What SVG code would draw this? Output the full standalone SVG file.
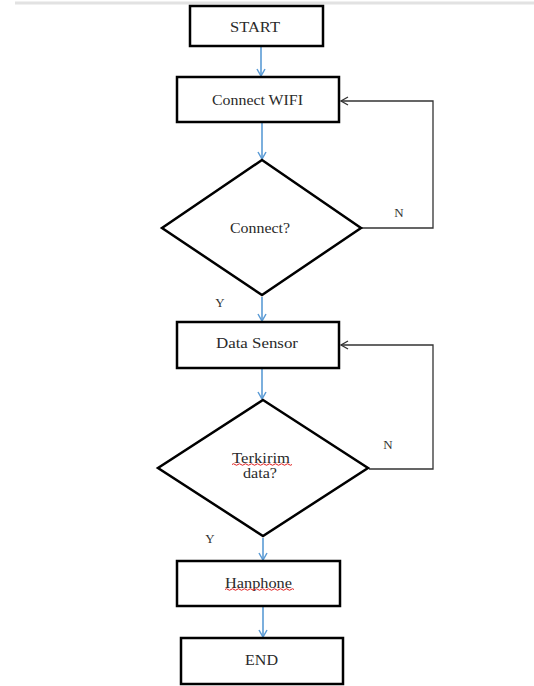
<svg xmlns="http://www.w3.org/2000/svg" width="534" height="686" viewBox="0 0 534 686">
<defs>
<style>
.box{fill:#fff;stroke:#000;stroke-width:2.5}
.dia{fill:#fff;stroke:#000;stroke-width:2.5;stroke-linejoin:miter}
.t{font-family:"Liberation Serif","Times New Roman",serif;font-size:14px;fill:#2a2a2a;text-anchor:middle;dominant-baseline:central}
.lbl{font-family:"Liberation Serif","Times New Roman",serif;font-size:13px;fill:#333;text-anchor:middle;dominant-baseline:central}
.flow{fill:none;stroke:#5b9bd5;stroke-width:1.6}
.loop{fill:none;stroke:#333;stroke-width:1.3}
.sq{fill:none;stroke:#e02020;stroke-width:1}
</style>
<marker id="ab" markerWidth="10" markerHeight="10" refX="8" refY="5" orient="auto" markerUnits="userSpaceOnUse">
<path d="M1,1 L8,5 L1,9" fill="none" stroke="#5b9bd5" stroke-width="1.5"/>
</marker>
<marker id="ak" markerWidth="10" markerHeight="10" refX="8" refY="5" orient="auto" markerUnits="userSpaceOnUse">
<path d="M1,1 L8,5 L1,9" fill="none" stroke="#333" stroke-width="1.3"/>
</marker>
</defs>
<rect width="534" height="686" fill="#fff"/>
<line x1="15" y1="3" x2="534" y2="3" stroke="#e2e2e2" stroke-width="3"/>

<g id="connectors">
<line class="flow" x1="261" y1="47" x2="261" y2="76" marker-end="url(#ab)"/>
<line class="flow" x1="262" y1="123" x2="262" y2="159" marker-end="url(#ab)"/>
<line class="flow" x1="262" y1="297" x2="262" y2="321" marker-end="url(#ab)"/>
<line class="flow" x1="262" y1="369" x2="262" y2="399" marker-end="url(#ab)"/>
<line class="flow" x1="263" y1="538" x2="263" y2="560" marker-end="url(#ab)"/>
<line class="flow" x1="263" y1="607" x2="263" y2="637" marker-end="url(#ab)"/>
<polyline class="loop" points="362,228 433,228 433,101 341,101" marker-end="url(#ak)"/>
<polyline class="loop" points="369,469 433,469 433,345 341,345" marker-end="url(#ak)"/>
<text class="lbl" x="399" y="212">N</text>
<text class="lbl" x="220" y="302">Y</text>
<text class="lbl" x="388" y="444">N</text>
<text class="lbl" x="210" y="538">Y</text>
</g>

<g id="start">
<rect class="box" x="190" y="6" width="133" height="40"/>
<text class="t" x="255" y="27" textLength="50" lengthAdjust="spacingAndGlyphs">START</text>
</g>
<g id="connect-wifi">
<rect class="box" x="177" y="77" width="162" height="45"/>
<text class="t" x="257.5" y="100" textLength="91" lengthAdjust="spacingAndGlyphs">Connect WIFI</text>
</g>
<g id="connect-q">
<polygon class="dia" points="262,160 361,228 262,295 162,228"/>
<text class="t" x="260" y="228" textLength="60" lengthAdjust="spacingAndGlyphs">Connect?</text>
</g>
<g id="data-sensor">
<rect class="box" x="177" y="322" width="162" height="46"/>
<text class="t" x="257" y="343" textLength="82" lengthAdjust="spacingAndGlyphs">Data Sensor</text>
</g>
<g id="terkirim-q">
<polygon class="dia" points="263,400 368,468 263,536 158,468"/>
<text class="t" x="261" y="458" textLength="58" lengthAdjust="spacingAndGlyphs">Terkirim</text>
<path class="sq" d="M232,464.5 q1.5,-1.5 3,0 t3,0 t3,0 t3,0 t3,0 t3,0 t3,0 t3,0 t3,0 t3,0 t3,0 t3,0 t3,0 t3,0 t3,0 t3,0 t3,0 t3,0 t3,0 t3,0"/>
<text class="t" x="260" y="473" textLength="34" lengthAdjust="spacingAndGlyphs">data?</text>
</g>
<g id="hanphone">
<rect class="box" x="177" y="561" width="163" height="45"/>
<text class="t" x="258.5" y="583" textLength="67" lengthAdjust="spacingAndGlyphs">Hanphone</text>
<path class="sq" d="M225,589.5 q1.5,-1.5 3,0 t3,0 t3,0 t3,0 t3,0 t3,0 t3,0 t3,0 t3,0 t3,0 t3,0 t3,0 t3,0 t3,0 t3,0 t3,0 t3,0 t3,0 t3,0 t3,0 t3,0 t3,0 t3,0"/>
</g>
<g id="end">
<rect class="box" x="181" y="638" width="162" height="46"/>
<text class="t" x="261.5" y="660" textLength="33" lengthAdjust="spacingAndGlyphs">END</text>
</g>
</svg>
